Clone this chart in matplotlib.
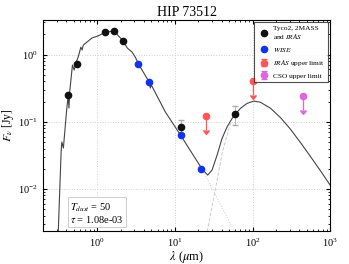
import matplotlib
matplotlib.use('Agg')
import matplotlib.pyplot as plt
import numpy as np

plt.rcParams['font.family'] = ['Liberation Serif', 'DejaVu Serif']
plt.rcParams['mathtext.fontset'] = 'stix'

# Модель SED
model_lam = [0.307, 0.343, 0.350, 0.367, 0.404, 0.422, 0.433, 0.442, 0.480, 0.505,
             0.536, 0.569, 0.616, 0.640, 0.660, 0.736, 0.854, 1.03, 1.27, 1.47,
             1.66, 1.87, 2.17, 2.44, 2.83, 3.09, 3.41, 4.69, 4.83, 4.98,
             7.54, 11.8, 22.4, 26.5, 30.2, 35.0, 40.6, 47.2, 54.7, 60.3,
             70.0, 85.4, 104, 127, 171, 230, 309, 416, 560, 754, 1000]
model_f = [0.001, 0.0355, 0.050, 0.0407, 0.1495, 0.2415, 0.160, 0.277, 0.698, 0.588,
           0.774, 0.918, 1.29, 1.17, 1.38, 1.53, 1.76, 1.90, 2.14, 2.20,
           2.26, 1.90, 1.59, 1.25, 1.08, 0.918, 0.722, 0.386, 0.318, 0.352,
           0.140, 0.0636, 0.0198, 0.0161, 0.0192, 0.0320, 0.0568, 0.0844, 0.1125, 0.1304,
           0.1585, 0.188, 0.2035, 0.1947, 0.1585, 0.1149, 0.0772, 0.0488, 0.0302, 0.0185, 0.0114]

# Компоненты: пыль и звезда
dust_lam = [23.5, 26.2, 33.3, 41.0, 52.0]
dust_f = [0.00116, 0.00237, 0.010, 0.0355, 0.0958]
star_lam = [22.4, 56.9, 81.2]
star_f = [0.0198, 0.0025, 0.00105]

# Фотометрия
phot_lam = [0.42, 0.55, 1.25, 1.65, 2.17]
phot_f = [0.247, 0.73, 2.14, 2.22, 1.58]
iras_lam = [12.0, 60.0]
iras_f = [0.0836, 0.130]
iras_err = [0.022, 0.04]
wise_lam = [3.4, 4.6, 12.0, 22.0]
wise_f = [0.722, 0.386, 0.0636, 0.0198]
iras_ul_lam = [25.0, 100.0]
iras_ul_f = [0.122, 0.404]
cso_ul_lam = [450.0]
cso_ul_f = [0.241]

fig = plt.figure(figsize=(3.49, 2.64), dpi=100)
ax = fig.add_axes([0.123, 0.125, 0.823, 0.799])

ax.plot(model_lam, model_f, color='#444444', lw=0.8, zorder=2)
ax.plot(dust_lam, dust_f, color='#cccccc', lw=0.7, ls='--', zorder=1)
ax.plot(star_lam, star_f, color='#cccccc', lw=0.7, ls=':', zorder=1)

ax.errorbar(iras_lam, iras_f, yerr=iras_err, fmt='none', ecolor='#aaaaaa',
            elinewidth=0.6, capsize=2, zorder=3)
ax.plot(phot_lam + iras_lam, phot_f + iras_f, 'o', color='#111111', ms=4.5,
        zorder=4, label='Tyco2, 2MASS\nand $IRAS$')
ax.plot(wise_lam, wise_f, 'o', color='#1133ee', ms=4.5, zorder=5, label='$WISE$')

ul = np.array(iras_ul_f)
ax.errorbar(iras_ul_lam, iras_ul_f, yerr=0.38 * ul, uplims=True, fmt='o',
            color='#ff5555', ms=4.5, elinewidth=0.9, capsize=2,
            label='$IRAS$ upper limit', zorder=4)
cl = np.array(cso_ul_f)
ax.errorbar(cso_ul_lam, cso_ul_f, yerr=0.38 * cl, uplims=True, fmt='o',
            color='#dd66dd', ms=4.5, elinewidth=0.9, capsize=2,
            label='CSO upper limit', zorder=4)

ax.set_xscale('log')
ax.set_yscale('log')
ax.set_xlim(0.2, 1000)
ax.set_ylim(0.00237, 3.26)
ax.grid(True, which='major', ls=':', color='#d0d0d0', lw=0.7)
ax.tick_params(which='both', direction='in', top=True, right=True, labelsize=7.5)
ax.tick_params(which='major', length=3, pad=4)
ax.tick_params(which='minor', length=1.5)
for s in ax.spines.values():
    s.set_linewidth(0.8)

ax.set_title('HIP 73512', fontsize=10, pad=3)
ax.set_xlabel(r'$\lambda$ ($\mu$m)', fontsize=9, labelpad=0)
ax.set_ylabel(r'$F_\nu$ [Jy]', fontsize=8.5)
ax.yaxis.set_label_coords(-0.095, 0.5)

leg = ax.legend(loc='upper right', fontsize=5.3, frameon=True, fancybox=False,
                borderpad=0.5, labelspacing=0.6, handletextpad=0.4,
                handlelength=1.6, borderaxespad=0.3)
leg.get_frame().set_edgecolor('#222222')
leg.get_frame().set_linewidth(0.8)

ax.text(0.095, 0.03, '$T_{dust}$ = 50\n' + r'$\tau$ = 1.08e-03', transform=ax.transAxes,
        fontsize=7.5, va='bottom', ha='left', linespacing=1.0,
        bbox=dict(boxstyle='square,pad=0.25', facecolor='white', edgecolor='#cccccc', lw=0.7))

plt.savefig('out.png', dpi=100)
plt.close()
